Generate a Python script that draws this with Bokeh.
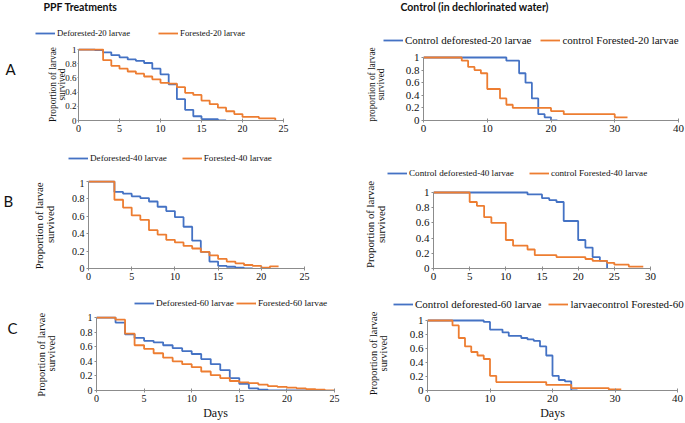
from bokeh.plotting import figure
from bokeh.models import (Range1d, FixedTicker, CustomJSTickFormatter, Legend,
                          LegendItem, Label, ColumnDataSource)
from bokeh.layouts import row, column
from bokeh.embed import file_html
from bokeh.resources import INLINE

BLUE = "#4472C4"
ORANGE = "#ED7D31"
AXIS = "#8c8c8c"
SERIF = "Liberation Serif"
SANS = "Lato"
INK = "#111111"

# ---------------- data (days, proportion surviving) ----------------
# Row A: 20 larvae
a_ppf_def_days = [0, 2, 3, 4, 5, 6, 7, 8, 9, 10, 11, 12, 13, 14, 15, 17, 18]
a_ppf_def_surv = [1, 0.99, 0.96, 0.92, 0.89, 0.86, 0.84, 0.81, 0.73, 0.65, 0.51, 0.30, 0.15, 0.06, 0.02, 0.0, 0.0]
a_ppf_for_days = [0, 3, 4, 5, 6, 7, 8, 9, 10, 11, 12, 13, 14, 15, 16, 17, 18, 19, 20, 22, 24]
a_ppf_for_surv = [1, 0.85, 0.77, 0.73, 0.69, 0.66, 0.62, 0.58, 0.53, 0.52, 0.47, 0.39, 0.36, 0.28, 0.23, 0.18, 0.13, 0.09, 0.05, 0.03, 0.0]
a_ctl_def_days = [0, 13, 15, 16, 17, 18, 19, 20, 21]
a_ctl_def_surv = [1, 0.95, 0.75, 0.6, 0.35, 0.1, 0.05, 0.0, 0.0]
a_ctl_for_days = [0, 6, 7, 8, 9, 10, 12, 13, 14, 20, 22, 30, 32]
a_ctl_for_surv = [1, 0.95, 0.85, 0.8, 0.75, 0.5, 0.35, 0.25, 0.2, 0.15, 0.1, 0.05, 0.05]

# Row B: 40 larvae
b_ppf_def_days = [0, 3, 4, 5, 6, 7, 8, 9, 10, 11, 12, 13, 14, 15, 16, 17, 18, 19]
b_ppf_def_surv = [1, 0.88, 0.86, 0.83, 0.81, 0.77, 0.71, 0.66, 0.59, 0.48, 0.32, 0.19, 0.08, 0.03, 0.02, 0.01, 0.0, 0.0]
b_ppf_for_days = [0, 3, 4, 5, 6, 7, 8, 9, 10, 11, 12, 13, 14, 15, 16, 17, 18, 19, 20, 21, 22]
b_ppf_for_surv = [1, 0.79, 0.70, 0.61, 0.56, 0.44, 0.39, 0.33, 0.30, 0.26, 0.23, 0.19, 0.15, 0.11, 0.08, 0.06, 0.04, 0.03, 0.01, 0.025, 0.025]
b_ctl_def_days = [0, 13, 15, 16, 17, 18, 20, 21, 22, 23, 24]
b_ctl_def_surv = [1, 0.975, 0.925, 0.9, 0.875, 0.625, 0.375, 0.275, 0.15, 0.1, 0.0]
b_ctl_for_days = [0, 5, 6, 7, 8, 10, 11, 13, 14, 17, 21, 22, 24, 25, 27, 29]
b_ctl_for_surv = [1, 0.875, 0.825, 0.675, 0.6, 0.375, 0.3, 0.25, 0.175, 0.15, 0.125, 0.1, 0.075, 0.05, 0.025, 0.025]

# Row C: 60 larvae
c_ppf_def_days = [0, 2, 3, 4, 5, 6, 7, 8, 9, 10, 11, 12, 13, 14, 15, 16, 17, 18, 22]
c_ppf_def_surv = [1, 0.93, 0.77, 0.72, 0.68, 0.66, 0.62, 0.58, 0.54, 0.50, 0.43, 0.36, 0.28, 0.17, 0.09, 0.03, 0.01, 0.0, 0.0]
c_ppf_for_days = [0, 2, 3, 4, 5, 6, 7, 8, 9, 10, 11, 12, 13, 14, 15, 16, 17, 18, 19, 20, 21, 22, 23, 24, 25]
c_ppf_for_surv = [1, 0.97, 0.78, 0.62, 0.57, 0.51, 0.45, 0.40, 0.36, 0.32, 0.26, 0.21, 0.17, 0.13, 0.11, 0.10, 0.08, 0.06, 0.05, 0.04, 0.03, 0.02, 0.01, 0.0, 0.0]
c_ctl_def_days = [0, 9, 10, 12, 13, 15, 16, 17, 18, 19, 20, 21, 22, 23, 24]
c_ctl_def_surv = [1, 0.98, 0.87, 0.83, 0.78, 0.75, 0.73, 0.71, 0.63, 0.5, 0.21, 0.15, 0.13, 0.0, 0.0]
c_ctl_for_days = [0, 4, 5, 6, 7, 8, 9, 10, 11, 19, 23, 29, 31]
c_ctl_for_surv = [1, 0.93, 0.75, 0.63, 0.55, 0.5, 0.45, 0.21, 0.12, 0.08, 0.035, 0.015, 0.015]

y_ticks = [0, 0.2, 0.4, 0.6, 0.8, 1]

a_names_ppf = ["Deforested-20 larvae", "Forested-20 larvae"]
a_names_ctl = ["Control deforested-20 larvae", "control Forested-20 larvae"]
b_names_ppf = ["Deforested-40 larvae", "Forested-40 larvae"]
b_names_ctl = ["Control deforested-40 larvae", "control Forested-40 larvae"]
c_names_ppf = ["Deforested-60 larvae", "Forested-60 larvae"]
c_names_ctl = ["Control deforested-60 larvae", "larvaecontrol Forested-60 larvae"]


# ---------------- helpers ----------------
def blank(W, H, ft=0, fb=0, xr=(0, 1)):
    p = figure(width=W, height=H, min_border_left=0, min_border_right=0,
               min_border_top=ft, min_border_bottom=fb,
               x_axis_type=None, y_axis_type=None,
               x_range=Range1d(*xr), y_range=Range1d(0, 1),
               output_backend="svg", toolbar_location=None, tools="")
    p.outline_line_color = None
    return p


def header(W, H, series, names, leg_x, leg_y, leg_fs, spacing, title=None, tx=0, ty=0):
    # legend strip: the series are drawn off-range (hidden), only their legend shows
    p = blank(W, H, xr=(-20, -10))
    rs = []
    for (d, s), c in zip(series, (BLUE, ORANGE)):
        rs.append(p.step(x="x", y="y", source=ColumnDataSource(dict(x=d, y=s)),
                         mode="after", line_color=c, line_width=1.8))
    leg = Legend(items=[LegendItem(label=n, renderers=[r]) for n, r in zip(names, rs)],
                 location=(leg_x, leg_y), orientation="horizontal",
                 padding=0, margin=0, spacing=spacing,
                 glyph_width=20, glyph_height=12, label_height=12, label_width=10,
                 label_standoff=2, label_text_font=SERIF,
                 label_text_font_size=f"{leg_fs}px", label_text_color=INK,
                 background_fill_alpha=0, border_line_alpha=0)
    p.add_layout(leg)
    if title:
        p.add_layout(Label(x=tx, y=H - ty, x_units="screen", y_units="screen",
                           text=title, text_font=SANS, text_font_size="10.5px",
                           text_font_style="bold", text_color=INK,
                           text_baseline="middle", text_align="left"))
    return p


def letter(txt, H, ft, fb, x, cy):
    p = blank(18, H, ft, fb)
    p.add_layout(Label(x=x, y=(H - fb) - cy, x_units="screen", y_units="screen",
                       text=txt, text_font=SANS, text_font_size="15px",
                       text_color=INK, text_baseline="middle", text_align="left"))
    return p


def panel(W, H, fl, fr, ft, fb, xmax, xstep, blue, orange, y_end,
          tick_fs, ylab, ylab_fs, ylab_so, xlab=None, ytick_fs=None, ytick_out=2, ytick_so=2):
    p = figure(width=W, height=H, min_border_left=fl, min_border_right=fr,
               min_border_top=ft, min_border_bottom=fb,
               x_range=Range1d(0, xmax), y_range=Range1d(0, y_end),
               output_backend="svg", toolbar_location=None, tools="")
    p.outline_line_color = None
    p.xgrid.visible = False
    p.ygrid.visible = False

    for (d, s), col in ((blue, BLUE), (orange, ORANGE)):
        src = ColumnDataSource(dict(x=d, y=s))
        p.step(x="x", y="y", source=src, mode="after", line_color=col, line_width=1.8)

    for ax in (p.xaxis[0], p.yaxis[0]):
        ax.axis_line_color = AXIS
        ax.major_tick_line_color = AXIS
        ax.minor_tick_line_color = None
        ax.major_label_text_font = SERIF
        ax.major_label_text_font_size = f"{tick_fs}px"
        ax.major_label_text_color = INK
        ax.axis_label_text_font = SERIF
        ax.axis_label_text_font_style = "normal"
        ax.axis_label_text_color = INK
    p.xaxis.ticker = FixedTicker(ticks=list(range(0, xmax + 1, xstep)))
    p.xaxis.major_tick_in = 2
    p.xaxis.major_tick_out = 2
    p.xaxis.major_label_standoff = 2
    p.yaxis.ticker = FixedTicker(ticks=y_ticks)
    p.yaxis.bounds = (0, 1)
    p.yaxis.formatter = CustomJSTickFormatter(code="return tick.toString();")
    if ytick_fs:
        p.yaxis.major_label_text_font_size = f"{ytick_fs}px"
    p.yaxis.major_tick_in = 0
    p.yaxis.major_tick_out = ytick_out
    p.yaxis.major_label_standoff = ytick_so
    p.yaxis.axis_label = ylab
    p.yaxis.axis_label_text_font_size = f"{ylab_fs}px"
    p.yaxis.axis_label_text_line_height = 0.9
    p.yaxis.axis_label_standoff = ylab_so
    if xlab:
        p.xaxis.axis_label = xlab
        p.xaxis.axis_label_text_font_size = "12px"
        p.xaxis.axis_label_standoff = 1
    return p


A_ppf = ((a_ppf_def_days, a_ppf_def_surv), (a_ppf_for_days, a_ppf_for_surv))
A_ctl = ((a_ctl_def_days, a_ctl_def_surv), (a_ctl_for_days, a_ctl_for_surv))
B_ppf = ((b_ppf_def_days, b_ppf_def_surv), (b_ppf_for_days, b_ppf_for_surv))
B_ctl = ((b_ctl_def_days, b_ctl_def_surv), (b_ctl_for_days, b_ctl_for_surv))
C_ppf = ((c_ppf_def_days, c_ppf_def_surv), (c_ppf_for_days, c_ppf_for_surv))
C_ctl = ((c_ctl_def_days, c_ctl_def_surv), (c_ctl_for_days, c_ctl_for_surv))

# ---------------- row A ----------------
hA = row(header(340, 46, A_ppf, a_names_ppf, 35, 7, 8.7, 28, "PPF Treatments", 43, 6),
         header(345, 46, A_ctl, a_names_ctl, 43, 0, 11, 9, "Control (in dechlorinated water)", 60, 6))
mA = row(letter("A", 94, 2, 20, 5, 22),
         panel(322, 94, 60, 57, 2, 20, 25, 5, *A_ppf, 72 / 71, 10,
               "Proportion of larvae\nsurvived", 9.3, -5,
               ytick_fs=9, ytick_out=1, ytick_so=1),
         panel(345, 94, 83, 7, 2, 20, 40, 10, *A_ctl, 72 / 63, 11,
               "proportion of larvae\nsurvived", 9.3, 17))

# ---------------- row B ----------------
hB = row(header(340, 39, B_ppf, b_names_ppf, 68, 15, 9.15, 15),
         header(345, 39, B_ctl, b_names_ctl, 47, 0, 9.13, 15))
mB = row(letter("B", 107, 1, 18, 3, 21),
         panel(322, 107, 70, 36, 1, 18, 25, 5, *B_ppf, 88 / 87, 10,
               "Proportion of  larvae\nsurvived", 10.8, 13),
         panel(345, 107, 93, 35, 1, 18, 30, 5, *B_ctl, 88 / 76, 11,
               "Proportion of larvae\nsurvived", 10.8, 26))

# ---------------- row C ----------------
hC = row(header(340, 24, C_ppf, c_names_ppf, 134, 1, 9.27, 2),
         header(345, 24, C_ctl, c_names_ctl, 53, 0, 11, 7))
mC = row(letter("C", 113, 6, 33, 7, 17),
         panel(322, 113, 78, 6, 6, 33, 25, 5, *C_ppf, 74 / 73, 10,
               "Proportion of  larvae\nsurvived", 10.4, 20, xlab="Days"),
         panel(345, 113, 87, 8, 6, 33, 40, 10, *C_ctl, 74 / 70, 11,
               "Proportion of larvae\nsurvived", 10.4, 18, xlab="Days"))

layout = column(hA, mA, hB, mB, hC, mC)

with open("out.html", "w") as f:
    f.write(file_html(layout, INLINE))
